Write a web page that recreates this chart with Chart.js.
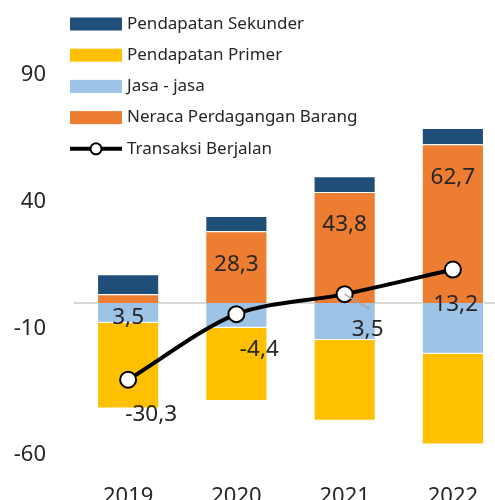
<!DOCTYPE html>
<html>
<head>
<meta charset="utf-8">
<script src="https://cdn.jsdelivr.net/npm/chart.js@4"></script>
<style>
  html, body { margin: 0; padding: 0; overflow: hidden; background: #fff; }
  #wrap { width: 517px; height: 500px; }
</style>
</head>
<body>
<div id="wrap"><canvas id="chart" width="517" height="500"></canvas></div>
<script>
// data (miliar USD)
const years = ['2019', '2020', '2021', '2022'];
const neraca = [3.5, 28.3, 43.8, 62.7];
const jasa = [-7.8, -9.8, -14.6, -20.0];
const primer = [-33.8, -28.9, -31.9, -35.9];
const sekunder = [7.8, 6.0, 6.2, 6.4];
const transaksi = [-30.3, -4.4, 3.5, 13.2];
const yTicks = [-60, -10, 40, 90];

const FONT = '"Noto Sans", sans-serif';
const TXT = '#262626';

function fmt(v) {
  return v.toFixed(1).replace('.', ',');
}

// zero line under the bars
const zeroLine = {
  id: 'zeroLine',
  beforeDatasetsDraw(chart) {
    const { ctx, chartArea } = chart;
    const y = chart.scales.y.getPixelForValue(0);
    ctx.save();
    ctx.strokeStyle = '#d9d9d9';
    ctx.lineWidth = 2;
    ctx.beginPath();
    ctx.moveTo(chartArea.left, y);
    ctx.lineTo(chartArea.right, y);
    ctx.stroke();
    ctx.restore();
  }
};

// value labels (neraca + transaksi berjalan)
const valueLabels = {
  id: 'valueLabels',
  afterDatasetsDraw(chart) {
    const ctx = chart.ctx;
    const y0 = chart.scales.y.getPixelForValue(0);
    ctx.save();
    ctx.font = '22.5px ' + FONT;
    ctx.fillStyle = TXT;
    ctx.textAlign = 'center';
    ctx.textBaseline = 'middle';
    // neraca labels, near the top of the orange block
    chart.getDatasetMeta(0).data.forEach((bar, i) => {
      const y = Math.min(bar.y + 33, y0 + 15);
      ctx.fillText(fmt(neraca[i]), bar.x, y);
    });
    // transaksi berjalan labels, below right of the marker
    chart.getDatasetMeta(4).data.forEach((pt, i) => {
      const s = fmt(transaksi[i]);
      const hw = ctx.measureText(s).width / 2;
      const x = Math.min(pt.x + 23, 478 - hw);
      const y = pt.y + 35;
      if (i === 2) {
        ctx.strokeStyle = '#a6a6a6';
        ctx.lineWidth = 1.5;
        ctx.beginPath();
        ctx.moveTo(pt.x, pt.y);
        ctx.lineTo(x + 2, y - 20);
        ctx.stroke();
      }
      ctx.fillText(s, x, y);
    });
    ctx.restore();
  }
};

// legend drawn over the plot, top left
const overlayLegend = {
  id: 'overlayLegend',
  afterDraw(chart) {
    const ctx = chart.ctx;
    const order = [3, 2, 1, 0, 4];
    ctx.save();
    ctx.font = '17px ' + FONT;
    ctx.textBaseline = 'middle';
    order.forEach((di, row) => {
      const ds = chart.data.datasets[di];
      const cy = 24 + row * 31.2;
      if (ds.type === 'line') {
        ctx.strokeStyle = '#000';
        ctx.lineWidth = 4;
        ctx.beginPath();
        ctx.moveTo(70, cy);
        ctx.lineTo(122, cy);
        ctx.stroke();
        ctx.fillStyle = '#fff';
        ctx.lineWidth = 2;
        ctx.beginPath();
        ctx.arc(96, cy, 5.5, 0, Math.PI * 2);
        ctx.fill();
        ctx.stroke();
      } else {
        ctx.fillStyle = ds.backgroundColor;
        ctx.fillRect(70, cy - 6.5, 52, 13);
      }
      ctx.fillStyle = TXT;
      ctx.fillText(ds.label, 127, cy);
    });
    ctx.restore();
  }
};

const barOpts = {
  barPercentage: 0.574, categoryPercentage: 1, stack: 'bop', order: 1,
  borderColor: 'rgba(255,255,255,0.5)', borderWidth: 1
};

new Chart(document.getElementById('chart'), {
  data: {
    labels: years,
    datasets: [
      Object.assign({ type: 'bar', label: 'Neraca Perdagangan Barang', data: neraca, backgroundColor: '#ED7D31' }, barOpts),
      Object.assign({ type: 'bar', label: 'Jasa - jasa', data: jasa, backgroundColor: '#9DC3E6' }, barOpts),
      Object.assign({ type: 'bar', label: 'Pendapatan Primer', data: primer, backgroundColor: '#FFC000' }, barOpts),
      Object.assign({ type: 'bar', label: 'Pendapatan Sekunder', data: sekunder, backgroundColor: '#1F4E79' }, barOpts),
      {
        type: 'line',
        label: 'Transaksi Berjalan',
        data: transaksi,
        stack: 'ca',
        order: 0,
        borderColor: '#000',
        borderWidth: 4,
        tension: 0.3,
        pointRadius: 8,
        pointBorderWidth: 2,
        pointBackgroundColor: '#fff',
        pointBorderColor: '#000'
      }
    ]
  },
  options: {
    responsive: false,
    animation: false,
    devicePixelRatio: 1,
    layout: { padding: { top: 75, right: 4, left: 0, bottom: 0 } },
    plugins: { legend: { display: false }, tooltip: { enabled: false } },
    scales: {
      x: {
        stacked: true,
        grid: { display: false, drawTicks: false },
        border: { display: false },
        ticks: { font: { family: FONT, size: 22 }, color: TXT, padding: 29 },
        afterFit(s) { s.height = 45; }
      },
      y: {
        stacked: true,
        min: -60,
        max: 90,
        grid: { display: false, drawTicks: false },
        border: { display: false },
        afterBuildTicks(s) { s.ticks = yTicks.map(v => ({ value: v })); },
        ticks: { font: { family: FONT, size: 22 }, color: TXT, padding: 28 },
        afterFit(s) { s.width = 74; }
      }
    }
  },
  plugins: [zeroLine, valueLabels, overlayLegend]
});
</script>
</body>
</html>
